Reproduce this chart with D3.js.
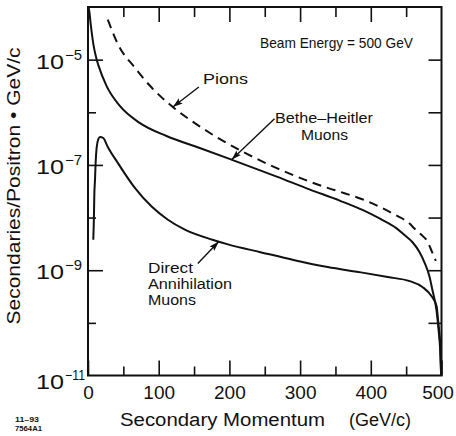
<!DOCTYPE html>
<html><head><meta charset="utf-8">
<script src="https://cdn.jsdelivr.net/npm/d3@7"></script>
<style>
html,body{margin:0;padding:0;background:#fff;}
svg{display:block;}
text{font-family:"Liberation Sans",Arial,Helvetica,sans-serif;fill:#111;}
</style></head><body>
<svg id="chart" width="456" height="436"></svg>
<script>
// ---- data ----
const momentumTicks = [0, 100, 200, 300, 400, 500];
const momentumMinorTicks = [50, 150, 250, 350, 450];
const yLabelExponents = [-5, -7, -9, -11];
const yMinorExponents = [-6, -8, -10];
const yRightExponents = [-5, -6, -7, -8, -9, -10];

const betheHeitlerP = [0.8, 1.8, 4, 7.5, 12.3, 15, 26, 45, 73, 111, 158, 203, 267, 314, 356, 389, 413, 436, 448, 459, 469, 476, 483, 487, 493, 496, 498, 499.5];
const betheHeitlerV = [1.0e-4, 8.3e-5, 4.5e-5, 2.0e-5, 1.0e-5, 7.6e-6, 3.2e-6, 1.32e-6, 6.3e-7, 3.55e-7, 2.1e-7, 1.26e-7, 6.0e-8, 3.4e-8, 2.1e-8, 1.38e-8, 9.5e-9, 6.3e-9, 4.6e-9, 3.4e-9, 2.2e-9, 1.4e-9, 7.6e-10, 4.3e-10, 1.7e-10, 7.0e-11, 3.3e-11, 1.0e-11];

const pionsP = [28, 42, 66, 90, 120, 158, 173, 219, 267, 314, 342, 356, 389, 436, 452, 465, 474, 480, 485, 490, 492];
const pionsV = [5.75e-5, 2.0e-5, 7.1e-6, 2.95e-6, 1.26e-6, 5.4e-7, 4.0e-7, 1.78e-7, 8.7e-8, 4.8e-8, 3.55e-8, 3.1e-8, 2.2e-8, 1.1e-8, 8.3e-9, 5.6e-9, 4.4e-9, 3.55e-9, 2.5e-9, 1.74e-9, 1.5e-9];

const directP = [7.5, 8.5, 8.9, 9.9, 10.8, 12.2, 14.6, 17, 21.6, 28, 42, 66, 90, 113, 137, 176, 198, 244, 292, 339, 386, 424, 455, 473, 486, 493, 495, 497, 498.5, 499.5];
const directV = [3.8e-9, 1.23e-8, 2.5e-8, 5.25e-8, 1.1e-7, 2.1e-7, 3.1e-7, 3.4e-7, 3.25e-7, 2.2e-7, 1.1e-7, 3.7e-8, 1.62e-8, 9.1e-9, 5.9e-9, 3.8e-9, 3.1e-9, 2.2e-9, 1.55e-9, 1.15e-9, 9.1e-10, 7.4e-10, 6.2e-10, 4.8e-10, 3.2e-10, 2.1e-10, 1.2e-10, 6.3e-11, 3.2e-11, 1.0e-11];

// ---- layout ----
const svg = d3.select("#chart");
const L = 88, R = 441.5, T = 7, B = 375.5;
const x = d3.scaleLinear().domain([0, 500]).range([L, R]);
const y = d3.scaleLog().domain([1e-11, 1e-4]).range([B, T]);
const ink = "#111";

const defs = svg.append("defs");
defs.append("marker").attr("id", "ah").attr("viewBox", "0 -4 10 8")
  .attr("refX", 10).attr("refY", 0).attr("markerWidth", 10).attr("markerHeight", 8)
  .attr("markerUnits", "userSpaceOnUse").attr("orient", "auto")
  .append("path").attr("d", "M0,-3.2L10,0L0,3.2L2,0Z").attr("fill", ink);

// frame
svg.append("rect").attr("x", L).attr("y", T).attr("width", R - L).attr("height", B - T)
  .attr("fill", "none").attr("stroke", ink).attr("stroke-width", 2);

function styleAxis(g) {
  g.select(".domain").remove();
  g.selectAll("line").attr("stroke", ink).attr("stroke-width", 1.6);
}
// bottom ticks (inward)
svg.append("g").attr("transform", `translate(0,${B})`)
  .call(d3.axisBottom(x).tickValues(momentumTicks).tickSize(-15).tickPadding(10).tickFormat(d3.format("d")))
  .call(styleAxis)
  .call(g => g.selectAll("text").attr("font-size", 19).attr("fill", ink)
      .attr("font-family", '"Liberation Sans",Arial,sans-serif')
      .attr("dx", d => d === 500 ? -4 : 0));
svg.append("g").attr("transform", `translate(0,${B})`)
  .call(d3.axisBottom(x).tickValues(momentumMinorTicks).tickSize(-9).tickFormat(""))
  .call(styleAxis);
// top ticks (inward)
svg.append("g").attr("transform", `translate(0,${T})`)
  .call(d3.axisTop(x).tickValues(momentumTicks.slice(1, -1)).tickSize(-15).tickFormat(""))
  .call(styleAxis);
svg.append("g").attr("transform", `translate(0,${T})`)
  .call(d3.axisTop(x).tickValues(momentumMinorTicks).tickSize(-10).tickFormat(""))
  .call(styleAxis);
// left ticks
svg.append("g").attr("transform", `translate(${L},0)`)
  .call(d3.axisLeft(y).tickValues(yLabelExponents.filter(e => e > -11).map(e => Math.pow(10, e))).tickSize(-15).tickFormat(""))
  .call(styleAxis);
svg.append("g").attr("transform", `translate(${L},0)`)
  .call(d3.axisLeft(y).tickValues(yMinorExponents.map(e => Math.pow(10, e))).tickSize(-8).tickFormat(""))
  .call(styleAxis);
// right ticks
svg.append("g").attr("transform", `translate(${R},0)`)
  .call(d3.axisRight(y).tickValues(yRightExponents.map(e => Math.pow(10, e))).tickSize(-13).tickFormat(""))
  .call(styleAxis);

// y tick labels (10 with superscript)
yLabelExponents.forEach(e => {
  const yy = y(Math.pow(10, e)) + (e === -11 ? 13 : 9);
  svg.append("text").attr("x", 36).attr("y", yy).attr("font-size", 20)
    .attr("textLength", 28).attr("lengthAdjust", "spacingAndGlyphs").text("10");
  svg.append("text").attr("x", 65).attr("y", yy - 9).attr("font-size", 14)
    .attr("textLength", e === -11 ? 20 : 17).attr("lengthAdjust", "spacingAndGlyphs")
    .text("\u2212" + Math.abs(e));
});

// axis titles
svg.append("text").attr("transform", "translate(20,186) rotate(-90)")
  .attr("text-anchor", "middle").attr("font-size", 19)
  .attr("textLength", 277).attr("lengthAdjust", "spacingAndGlyphs")
  .text("Secondaries/Positron \u2022 GeV/c");
svg.append("text").attr("x", 120).attr("y", 426).attr("font-size", 18)
  .attr("textLength", 205).attr("lengthAdjust", "spacingAndGlyphs").text("Secondary Momentum");
svg.append("text").attr("x", 349).attr("y", 426).attr("font-size", 18)
  .attr("textLength", 62).attr("lengthAdjust", "spacingAndGlyphs").text("(GeV/c)");

// footnote
svg.append("text").attr("x", 15).attr("y", 422).attr("font-size", 8).attr("font-weight", "bold")
  .attr("textLength", 24).attr("lengthAdjust", "spacingAndGlyphs").text("11\u201393");
svg.append("text").attr("x", 15).attr("y", 431).attr("font-size", 7.5).attr("font-weight", "bold")
  .attr("textLength", 27).attr("lengthAdjust", "spacingAndGlyphs").text("7564A1");

// curves
const line = d3.line().x(d => x(d[0])).y(d => y(d[1])).curve(d3.curveMonotoneX);
const series = [
  {p: betheHeitlerP, v: betheHeitlerV, dash: null},
  {p: pionsP, v: pionsV, dash: "9,6"},
  {p: directP, v: directV, dash: null}
];
series.forEach(s => {
  svg.append("path").datum(d3.zip(s.p, s.v)).attr("d", line)
    .attr("fill", "none").attr("stroke", ink).attr("stroke-width", 2)
    .attr("stroke-dasharray", s.dash);
});

// annotations
function valueAt(P, V, p) {
  const i = d3.bisectLeft(P, p);
  if (i <= 0) return V[0];
  const t = (p - P[i - 1]) / (P[i] - P[i - 1]);
  return Math.pow(10, Math.log10(V[i - 1]) + t * (Math.log10(V[i]) - Math.log10(V[i - 1])));
}
function arrow(P, V, p, dx, dy) {
  const tx = x(p), ty = y(valueAt(P, V, p));
  svg.append("line").attr("x1", tx + dx).attr("y1", ty + dy).attr("x2", tx).attr("y2", ty)
    .attr("stroke", ink).attr("stroke-width", 1.4).attr("marker-end", "url(#ah)");
}
arrow(pionsP, pionsV, 120, 26, -20);
arrow(betheHeitlerP, betheHeitlerV, 203, 43, -41);
arrow(directP, directV, 185, -21, 22);

function label(txt, xx, yy, len, fs) {
  svg.append("text").attr("x", xx).attr("y", yy).attr("font-size", fs || 15.5)
    .attr("textLength", len).attr("lengthAdjust", "spacingAndGlyphs").text(txt);
}
label("Beam Energy = 500 GeV", 260, 48, 153, 14.5);
label("Pions", 203, 84, 45);
label("Bethe\u2013Heitler", 275, 123, 98);
label("Muons", 301, 140, 47);
label("Direct", 148, 273, 45);
label("Annihilation", 148, 289, 84);
label("Muons", 148, 305, 48);
</script>
</body></html>
